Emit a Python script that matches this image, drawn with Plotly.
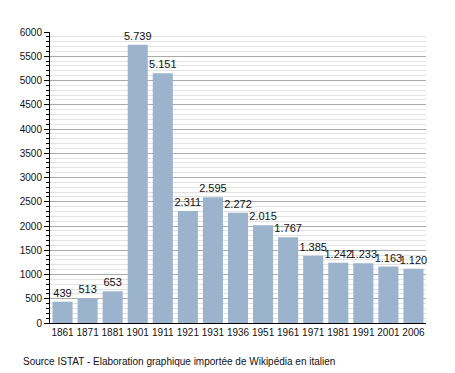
import plotly.graph_objects as go

years = ["1861", "1871", "1881", "1901", "1911", "1921", "1931", "1936",
         "1951", "1961", "1971", "1981", "1991", "2001", "2006"]
population = [439, 513, 653, 5739, 5151, 2311, 2595, 2272,
              2015, 1767, 1385, 1242, 1233, 1163, 1120]
y_ticks = [0, 500, 1000, 1500, 2000, 2500, 3000, 3500, 4000, 4500, 5000, 5500, 6000]


def fmt(v):
    return f"{v:,}".replace(",", ".")


labels = [fmt(v) for v in population]

fig = go.Figure()
fig.add_trace(go.Bar(
    x=years, y=population, text=labels, textposition="outside",
    textfont=dict(size=11, color="#111", family="Liberation Sans, Arial"),
    marker=dict(color="#9bb3cc", line=dict(width=0)),
    constraintext="none", cliponaxis=False, textangle=0,
))

# page body has an 8px margin; figure is sized to fit exactly in the window
fig.update_layout(
    width=447, height=365,
    margin=dict(l=42, r=29, t=24, b=50, autoexpand=False),
    paper_bgcolor="white", plot_bgcolor="white",
    bargap=0.2, showlegend=False,
    font=dict(family="Liberation Sans, Arial", size=10, color="#111"),
)
fig.update_xaxes(
    type="category", showline=True, linecolor="black", linewidth=1,
    ticks="", tickfont=dict(size=10), tickangle=0, showgrid=False, automargin=False,
)
fig.update_yaxes(
    range=[0, 6000], tickvals=y_ticks, showline=True, linecolor="black", linewidth=1,
    ticks="outside", ticklen=5, tickcolor="black", tickfont=dict(size=10),
    showgrid=True, gridcolor="#aaaaaa", gridwidth=1, zeroline=False, automargin=False,
    minor=dict(dtick=100, showgrid=True, gridcolor="#e2e2e2", gridwidth=1,
               ticks="outside", ticklen=3, tickcolor="black"),
)
fig.add_annotation(
    text="Source ISTAT - Elaboration graphique importée de Wikipédia en italien",
    xref="paper", yref="paper", x=-0.077, y=-0.134, xanchor="left", yanchor="middle",
    showarrow=False, font=dict(size=10, color="#111"),
)
fig.write_html("out.html")
